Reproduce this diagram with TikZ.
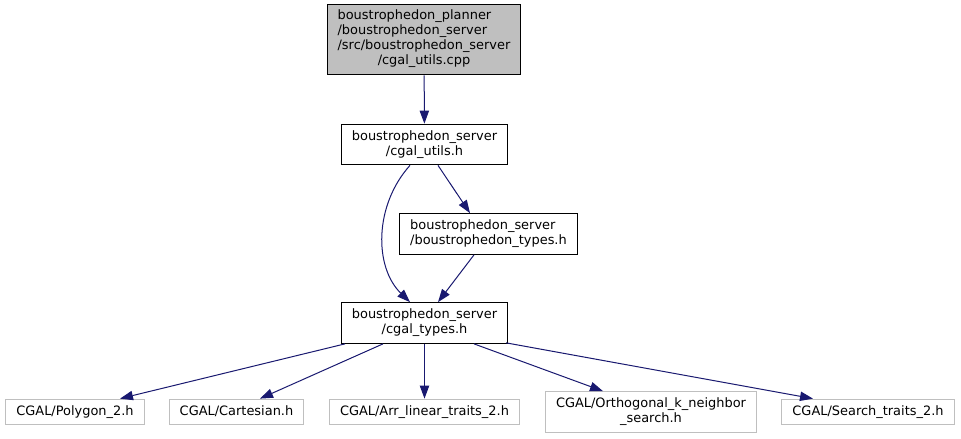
\documentclass[tikz,border=0pt]{standalone}
\usepackage{fontspec}
\setmainfont{DejaVu Sans}
\usetikzlibrary{arrows.meta,calc}

\definecolor{edgeblue}{HTML}{191970}
\definecolor{rootfill}{HTML}{BFBFBF}
\definecolor{extgray}{HTML}{BFBFBF}

% doxygen style labels: left aligned lines, last line centred
\newcommand{\inclabel}[2]{\begin{tabular}{@{}l@{}}#1\\\multicolumn{1}{@{}c@{}}{#2}\end{tabular}}
\newcommand{\extlabel}[1]{\begin{tabular}{@{}c@{}}#1\end{tabular}}

\begin{document}
\begin{tikzpicture}[
  x=0.75pt, y=-0.75pt,
  font=\fontsize{9.7}{11.25}\selectfont,
  file/.style={draw, line width=0.8pt, inner xsep=7.9pt, inner ysep=4pt, fill=white},
  root/.style={file, fill=rootfill},
  ext/.style={file, draw=extgray},
  arrow/.style={-{Triangle[length=9.75pt,width=7pt]}, color=edgeblue, line width=0.75pt}
]
\path[fill=white] (0,0) rectangle (961,439);

\node[root] (utilscpp) at (424,39.5) {\inclabel{boustrophedon\_planner\\/boustrophedon\_server\\/src/boustrophedon\_server}{/cgal\_utils.cpp}};
\node[file] (utilsh) at (424.5,144.5) {\inclabel{boustrophedon\_server}{/cgal\_utils.h}};
\node[file] (typesh) at (488.5,234) {\inclabel{boustrophedon\_server}{/boustrophedon\_types.h}};
\node[file] (cgaltypes) at (424.5,323) {\inclabel{boustrophedon\_server}{/cgal\_types.h}};

\node[ext] (polygon) at (75,412) {\extlabel{CGAL/Polygon\_2.h}};
\node[ext] (cartesian) at (236.5,412) {\extlabel{CGAL/Cartesian.h}};
\node[ext] (arrtraits) at (424.5,412) {\extlabel{CGAL/Arr\_linear\_traits\_2.h}};
\node[ext] (neighbor) at (651,412) {\inclabel{CGAL/Orthogonal\_k\_neighbor}{\_search.h}};
\node[ext] (searchtraits) at (868,412) {\extlabel{CGAL/Search\_traits\_2.h}};

\draw[arrow] (utilscpp) -- (utilsh);
\draw[arrow] ($(utilsh.south)+(13.5,0)$) -- ($(typesh.north)+(-18.5,0)$);
\draw[arrow] ($(utilsh.south)+(-14.5,0)$) .. controls +(-36,40) and +(-36,-35) .. ($(cgaltypes.north)+(-14.5,0)$);
\draw[arrow] ($(typesh.south)+(-14.5,0)$) -- ($(cgaltypes.north)+(13.5,0)$);
\draw[arrow] ($(cgaltypes.south)+(-79.5,0)$) -- ($(polygon.north)+(45,0)$);
\draw[arrow] ($(cgaltypes.south)+(-41.5,0)$) -- ($(cartesian.north)+(23.5,0)$);
\draw[arrow] (cgaltypes) -- (arrtraits);
\draw[arrow] ($(cgaltypes.south)+(49.5,0)$) -- ($(neighbor.north)+(-48,0)$);
\draw[arrow] ($(cgaltypes.south east)+(-2,-1)$) -- ($(searchtraits.north)+(-55,0)$);
\end{tikzpicture}
\end{document}
